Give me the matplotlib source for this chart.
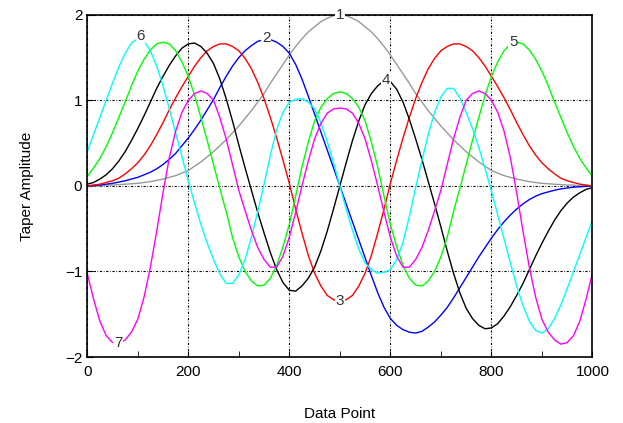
import numpy as np
import matplotlib
matplotlib.use("Agg")
import matplotlib.pyplot as plt
from matplotlib.ticker import MultipleLocator

# sample positions (every 12.5 data points)
data_point = np.arange(0, 1000.1, 12.5)

# taper values, one list per taper
taper_1 = [0.00, 0.00, 0.00, 0.01, 0.01, 0.015, 0.02, 0.025, 0.03, 0.04,
           0.05, 0.065, 0.08, 0.10, 0.12, 0.15, 0.18, 0.23, 0.28, 0.34,
           0.40, 0.47, 0.54, 0.62, 0.70, 0.79, 0.88, 0.98, 1.08, 1.20,
           1.31, 1.42, 1.53, 1.63, 1.72, 1.80, 1.86, 1.92, 1.96, 1.99, 2.00,
           1.99, 1.96, 1.92, 1.86, 1.80, 1.72, 1.63, 1.53, 1.42, 1.31,
           1.20, 1.08, 0.98, 0.88, 0.79, 0.70, 0.62, 0.54, 0.47, 0.40,
           0.34, 0.28, 0.23, 0.18, 0.15, 0.12, 0.10, 0.08, 0.065, 0.05,
           0.04, 0.03, 0.025, 0.02, 0.015, 0.01, 0.01, 0.00, 0.00, 0.00]
taper_2 = [0.00, 0.005, 0.01, 0.02, 0.03, 0.045, 0.06, 0.08, 0.10, 0.13,
           0.16, 0.20, 0.25, 0.31, 0.38, 0.47, 0.56, 0.66, 0.77, 0.89,
           1.01, 1.15, 1.28, 1.40, 1.50, 1.58, 1.64, 1.69, 1.71, 1.71,
           1.68, 1.63, 1.55, 1.42, 1.25, 1.05, 0.84, 0.63, 0.42, 0.21, 0.00,
           -0.21, -0.42, -0.63, -0.84, -1.05, -1.25, -1.42, -1.55, -1.63, -1.68,
           -1.71, -1.72, -1.70, -1.65, -1.59, -1.51, -1.42, -1.31, -1.19, -1.07,
           -0.95, -0.83, -0.72, -0.61, -0.51, -0.42, -0.34, -0.27, -0.21, -0.16,
           -0.12, -0.09, -0.07, -0.05, -0.035, -0.025, -0.015, -0.01, -0.005, 0.00]
taper_3 = [0.00, 0.01, 0.02, 0.04, 0.06, 0.09, 0.14, 0.20, 0.27, 0.36,
           0.47, 0.60, 0.74, 0.89, 1.03, 1.16, 1.28, 1.40, 1.50, 1.58,
           1.63, 1.66, 1.66, 1.63, 1.58, 1.49, 1.37, 1.21, 1.02, 0.80,
           0.56, 0.30, 0.03, -0.27, -0.55, -0.81, -1.02, -1.17, -1.28, -1.33, -1.35,
           -1.33, -1.28, -1.17, -1.02, -0.81, -0.55, -0.27, 0.03, 0.30, 0.56,
           0.80, 1.02, 1.21, 1.37, 1.49, 1.58, 1.63, 1.66, 1.66, 1.63,
           1.58, 1.50, 1.40, 1.28, 1.16, 1.03, 0.89, 0.74, 0.60, 0.47,
           0.36, 0.27, 0.20, 0.14, 0.09, 0.06, 0.04, 0.02, 0.01, 0.00]
taper_4 = [0.02, 0.04, 0.08, 0.13, 0.20, 0.29, 0.40, 0.53, 0.67, 0.82,
           0.98, 1.14, 1.28, 1.41, 1.52, 1.61, 1.66, 1.67, 1.63, 1.55,
           1.43, 1.25, 1.02, 0.76, 0.48, 0.21, -0.05, -0.31, -0.55, -0.78,
           -0.98, -1.13, -1.22, -1.23, -1.17, -1.08, -0.95, -0.76, -0.53, -0.27, 0.00,
           0.27, 0.53, 0.76, 0.95, 1.08, 1.17, 1.23, 1.22, 1.13, 0.98,
           0.78, 0.55, 0.31, 0.05, -0.21, -0.48, -0.76, -1.02, -1.25, -1.43,
           -1.55, -1.63, -1.67, -1.66, -1.61, -1.52, -1.41, -1.28, -1.14, -0.98,
           -0.82, -0.67, -0.53, -0.40, -0.29, -0.20, -0.13, -0.08, -0.04, -0.02]
taper_5 = [0.11, 0.21, 0.32, 0.46, 0.62, 0.80, 0.98, 1.17, 1.34, 1.48,
           1.59, 1.66, 1.68, 1.66, 1.58, 1.45, 1.28, 1.06, 0.80, 0.53,
           0.25, -0.03, -0.30, -0.60, -0.83, -1.00, -1.11, -1.17, -1.16, -1.08,
           -0.93, -0.71, -0.45, -0.12, 0.22, 0.51, 0.76, 0.92, 1.02, 1.08, 1.10,
           1.08, 1.02, 0.92, 0.76, 0.51, 0.22, -0.12, -0.45, -0.71, -0.93,
           -1.08, -1.16, -1.17, -1.11, -1.00, -0.83, -0.60, -0.30, -0.03, 0.25,
           0.53, 0.80, 1.06, 1.28, 1.45, 1.58, 1.66, 1.68, 1.66, 1.59,
           1.48, 1.34, 1.17, 0.98, 0.80, 0.62, 0.46, 0.32, 0.21, 0.11]
taper_6 = [0.40, 0.60, 0.80, 1.00, 1.20, 1.39, 1.55, 1.67, 1.72, 1.69,
           1.58, 1.40, 1.17, 0.90, 0.62, 0.34, 0.06, -0.20, -0.45, -0.67,
           -0.86, -1.03, -1.14, -1.14, -1.04, -0.86, -0.60, -0.30, 0.02, 0.36,
           0.66, 0.86, 0.98, 1.01, 1.02, 0.98, 0.90, 0.74, 0.52, 0.27, 0.00,
           -0.27, -0.52, -0.74, -0.90, -0.98, -1.02, -1.01, -0.98, -0.86, -0.66,
           -0.36, -0.02, 0.30, 0.60, 0.86, 1.04, 1.14, 1.14, 1.03, 0.86,
           0.67, 0.45, 0.20, -0.06, -0.34, -0.62, -0.90, -1.17, -1.40, -1.58,
           -1.69, -1.72, -1.67, -1.55, -1.39, -1.20, -1.00, -0.80, -0.60, -0.40]
taper_7 = [-1.02, -1.32, -1.58, -1.75, -1.83, -1.85, -1.80, -1.71, -1.56, -1.30,
           -0.95, -0.53, -0.08, 0.33, 0.64, 0.86, 1.00, 1.08, 1.11, 1.08,
           1.00, 0.80, 0.55, 0.25, -0.05, -0.29, -0.52, -0.72, -0.86, -0.95,
           -0.95, -0.82, -0.60, -0.31, 0.00, 0.29, 0.55, 0.73, 0.85, 0.90, 0.91,
           0.90, 0.85, 0.73, 0.55, 0.29, 0.00, -0.31, -0.60, -0.82, -0.95,
           -0.95, -0.86, -0.72, -0.52, -0.29, -0.05, 0.25, 0.55, 0.80, 1.00,
           1.08, 1.11, 1.08, 1.00, 0.86, 0.64, 0.33, -0.08, -0.53, -0.95,
           -1.30, -1.56, -1.71, -1.80, -1.85, -1.83, -1.75, -1.58, -1.32, -1.02]

tapers = [taper_1, taper_2, taper_3, taper_4, taper_5, taper_6, taper_7]
taper_names = ["1", "2", "3", "4", "5", "6", "7"]
colors = ["#999999", "#0000ff", "#ff0000", "#000000", "#00ff00", "#00ffff", "#ff00ff"]

# where each curve carries its number
label_x = [500, 354, 500, 591, 843, 106, 61]
label_y = [2.0, 1.73, -1.35, 1.24, 1.68, 1.75, -1.84]

plt.rcParams["font.family"] = ["Liberation Sans", "DejaVu Sans"]

fig = plt.figure(figsize=(6.23, 4.23), dpi=100)
ax = fig.add_axes([0.140, 0.156, 0.811, 0.809])

for vals, col in zip(tapers, colors):
    ax.plot(data_point, vals, color=col, linewidth=1.0)

for name, lx, ly in zip(taper_names, label_x, label_y):
    ax.text(lx, ly, name, ha="center", va="center", fontsize=11, color="#333333",
            bbox=dict(facecolor="white", edgecolor="none", pad=0.3), zorder=5)

ax.set_xlim(0, 1000)
ax.set_ylim(-2, 2)
ax.xaxis.set_major_locator(MultipleLocator(200))
ax.xaxis.set_minor_locator(MultipleLocator(100))
ax.yaxis.set_major_locator(MultipleLocator(1))
ax.grid(True, which="major", color="black", linewidth=0.8,
        linestyle=(0, (2, 1.5, 0.6, 1.5)))
ax.tick_params(which="both", direction="in", labelsize=11, top=False, right=False)
ax.tick_params(which="major", length=4)
ax.tick_params(which="minor", length=4)
ax.tick_params(axis="x", pad=6)
for sp in ax.spines.values():
    sp.set_linewidth(1.2)

ax.set_xlabel("Data Point", fontsize=11, labelpad=20)
ax.set_ylabel("Taper Amplitude", fontsize=11, labelpad=22)

fig.savefig("out.png", dpi=100)
